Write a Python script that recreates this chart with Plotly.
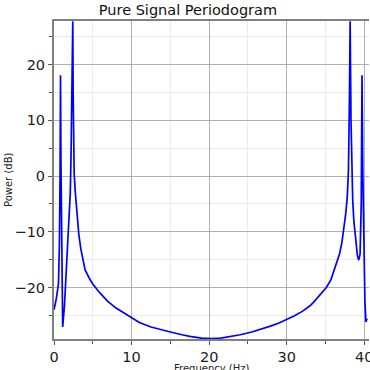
import plotly.graph_objects as go

# Values
freq_hz = [0.0, 0.3, 0.58, 0.7, 0.78, 0.84, 0.9, 0.97, 1.05, 1.12, 1.35, 1.5, 1.78, 2.0, 2.1,
           2.2, 2.3, 2.42, 2.47, 2.53, 2.6, 2.75, 2.86, 3.0, 3.2, 3.45, 3.7, 4.0, 4.57, 5.0,
           5.86, 6.93, 8.0, 8.66, 10.0, 11.0, 12.5, 14.0, 15.0, 16.5, 17.5, 19.0, 20.3, 21.5,
           23.0, 24.0, 25.5, 27.0, 28.0, 29.0, 30.0, 31.0, 32.0, 33.0, 33.5, 34.5, 35.1, 35.7,
           36.1, 36.5, 36.8, 37.1, 37.35, 37.6, 37.8, 37.95, 38.08, 38.17, 38.28, 38.4, 38.5,
           38.64, 38.85, 38.95, 39.1, 39.28, 39.45, 39.6, 39.7, 39.8, 39.9, 40.07, 40.2, 40.35]

power_db = [-24.0, -22.0, -19.3, -12.0, 0.0, 18.1, 2.0, -10.3, -20.0, -27.1, -23.3, -19.5, -11.5, -6.0, -3.0,
            4.0, 14.0, 27.8, 15.0, 5.0, 0.5, -3.0, -4.9, -7.3, -10.5, -13.0, -15.0, -16.8, -18.4, -19.4,
            -20.9, -22.5, -23.7, -24.3, -25.5, -26.3, -27.1, -27.7, -28.0, -28.5, -28.8, -29.1, -29.2, -29.1,
            -28.8, -28.5, -28.0, -27.4, -26.9, -26.4, -25.8, -25.1, -24.3, -23.3, -22.6, -21.1, -20.0, -18.6,
            -17.0, -15.6, -14.0, -12.0, -9.7, -6.8, -3.7, 1.0, 14.0, 27.8, 10.0, 1.0, -4.3,
            -7.9, -11.5, -12.7, -14.2, -15.1, -14.0, -5.0, 18.1, 1.0, -8.4, -22.3, -26.2, -25.6]

title_text = "Pure Signal Periodogram"
x_label = "Frequency (Hz)"
y_label = "Power (dB)"

FONT = "DejaVu Sans"
W, H = 370, 370
ML, MR, MT, MB = 54, 1, 21, 31

fig = go.Figure(
    go.Scatter(x=freq_hz, y=power_db, mode="lines",
               line=dict(color="#0000ff", width=1.7), showlegend=False, hoverinfo="skip",
               cliponaxis=True)
)

axis_common = dict(
    automargin=False,
    showgrid=True, gridcolor="#b0b0b0", gridwidth=1,
    zeroline=False,
    ticks="outside", ticklen=4, tickwidth=1, tickcolor="#555555",
    showline=True, linecolor="#808080", linewidth=2,
    ticklabeloverflow="allow",
    tickfont=dict(family=FONT, size=14.5, color="#222222"),
    minor=dict(dtick=5, showgrid=True, gridcolor="#ebebeb", gridwidth=1,
               ticks="outside", ticklen=3, tickcolor="#555555"),
)

fig.update_xaxes(range=[0, 40.6], tick0=0, dtick=10, mirror=True, **axis_common)
fig.update_yaxes(range=[-29.26, 27.85], tick0=0, dtick=10, mirror=False, **axis_common)

fig.update_layout(
    width=W, height=H,
    margin=dict(l=ML, r=MR, t=MT, b=MB, pad=0, autoexpand=False),
    paper_bgcolor="white", plot_bgcolor="white",
    font=dict(family=FONT, color="#222222"),
    title=dict(text=title_text, x=0.508, xref="container", xanchor="center",
               y=1 - 9.5 / H, yref="container", yanchor="middle", automargin=False,
               font=dict(family=FONT, size=14.5, color="#111111")),
    annotations=[
        dict(text=y_label, xref="paper", yref="paper", x=-(54 - 8) / (W - ML - MR), y=0.5,
             xanchor="center", yanchor="middle", textangle=-90, showarrow=False,
             font=dict(family=FONT, size=10, color="#222222")),
        dict(text=x_label, xref="paper", yref="paper", x=0.5, y=-(368 - 339) / (H - MT - MB),
             xanchor="center", yanchor="middle", showarrow=False,
             font=dict(family=FONT, size=10, color="#222222")),
    ],
)

fig.write_html("out.html",
               config={"displayModeBar": False, "staticPlot": True},
               post_script="document.body.style.margin='0';document.body.style.overflow='hidden';")
